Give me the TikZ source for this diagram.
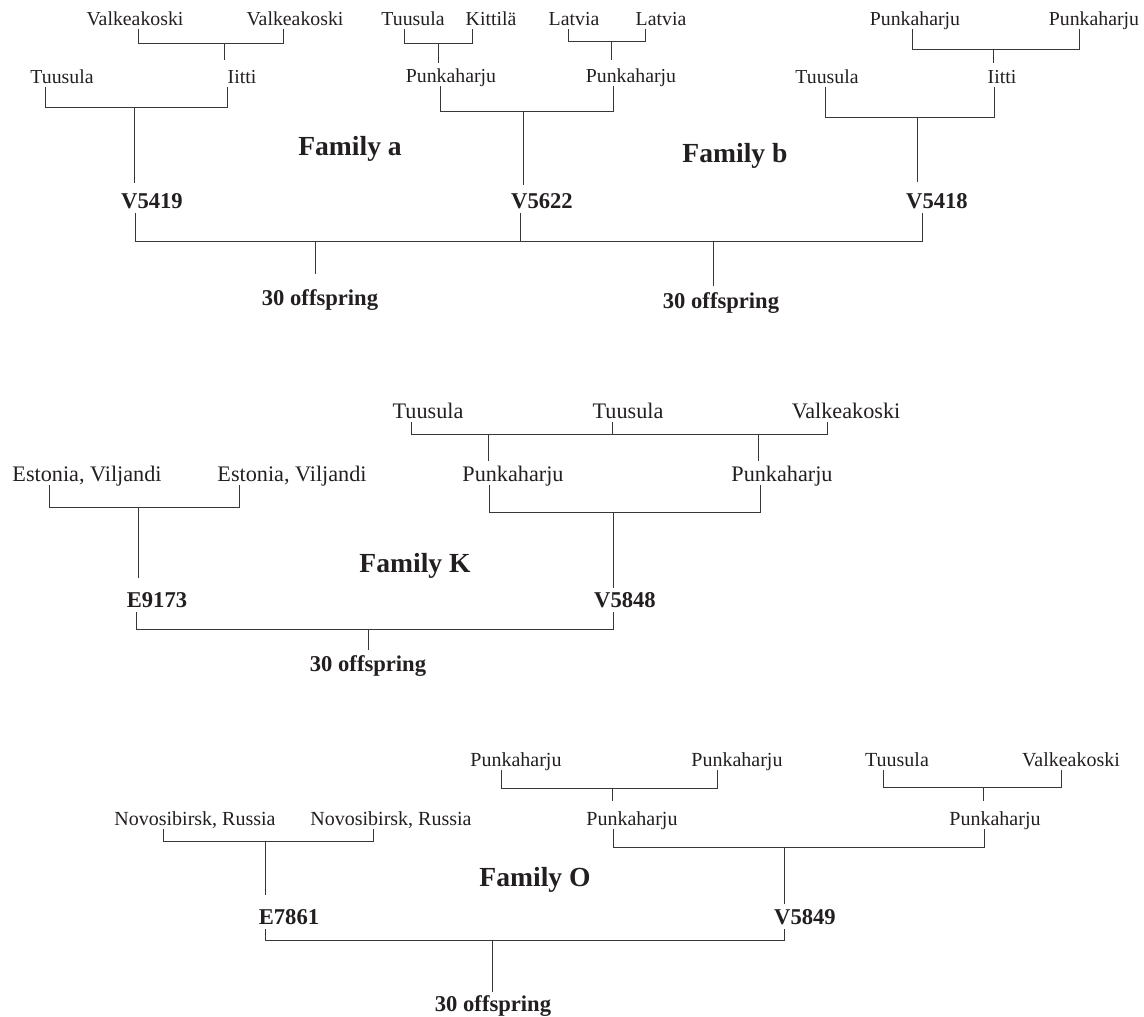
\documentclass[tikz,border=0pt]{standalone}
\usepackage{fontspec}
\setmainfont{Liberation Serif}
\newcommand{\fsTop}{\fontsize{19.8}{23}\selectfont}
\newcommand{\fsK}{\fontsize{22.2}{26}\selectfont}
\newcommand{\fsO}{\fontsize{20}{24}\selectfont}
\newcommand{\fsBold}{\fontsize{22.6}{26}\selectfont\bfseries}
\newcommand{\fsTitle}{\fontsize{27.6}{32}\selectfont\bfseries}
\definecolor{ink}{RGB}{35,31,32}
\definecolor{linec}{RGB}{55,55,55}
\tikzset{
  place/.style={anchor=base, inner sep=0pt, text depth=4pt, text=ink},
  ptop/.style={place, font=\fsTop},
  pk/.style={place, font=\fsK},
  po/.style={place, font=\fsO},
  ident/.style={anchor=base, inner sep=0pt, text depth=5pt, text=ink, font=\fsBold},
  famtitle/.style={anchor=base, inner sep=0pt, text=ink, font=\fsTitle},
  link/.style={draw=linec, line width=0.9pt}
}
\begin{document}
\begin{tikzpicture}[x=1pt,y=-1pt]
\useasboundingbox (0,0) rectangle (1144,1017);

% ================= Families a and b =================
\node[ptop] (va1) at (135,25) {Valkeakoski};
\node[ptop] (va2) at (295,25) {Valkeakoski};
\node[ptop] (ta)  at (413,25) {Tuusula};
\node[ptop] (ka)  at (491,25) {Kittilä};
\node[ptop] (la1) at (574,25) {Latvia};
\node[ptop] (la2) at (661,25) {Latvia};
\node[ptop] (pb1) at (915,25) {Punkaharju};
\node[ptop] (pb2) at (1094,25) {Punkaharju};

\node[ptop] (tua) at (62,83) {Tuusula};
\node[ptop] (iia) at (242,83) {Iitti};
\node[ptop] (pu1) at (451,82) {Punkaharju};
\node[ptop] (pu2) at (631,82) {Punkaharju};
\node[ptop] (tub) at (827,83) {Tuusula};
\node[ptop] (iib) at (1002,83) {Iitti};

\node[famtitle] (fa) at (350,155) {Family a};
\node[famtitle] (fb) at (735,162) {Family b};

\node[ident] (v5419) at (152,208) {V5419};
\node[ident] (v5622) at (542,208) {V5622};
\node[ident] (v5418) at (937,208) {V5418};

\node[ident] (off1) at (320,305) {30 offspring};
\node[ident] (off2) at (721,308) {30 offspring};

% brackets, top row
\coordinate (a1L) at (138,43);  \coordinate (a1R) at (283,43);
\coordinate (a1M) at (224,43);  \coordinate (a1S) at (224,60);
\draw[link] (va1.south -| a1L) -- (a1L) -- (a1R) -- (va2.south -| a1R);
\draw[link] (a1M) -- (a1S);

\coordinate (a2L) at (404,43);  \coordinate (a2R) at (472,43);
\coordinate (a2M) at (438,43);  \coordinate (a2S) at (438,63);
\draw[link] (ta.south -| a2L) -- (a2L) -- (a2R) -- (ka.south -| a2R);
\draw[link] (a2M) -- (a2S);

\coordinate (a3L) at (568,41);  \coordinate (a3R) at (645,41);
\coordinate (a3M) at (611,41);  \coordinate (a3S) at (611,60);
\draw[link] (la1.south -| a3L) -- (a3L) -- (a3R) -- (la2.south -| a3R);
\draw[link] (a3M) -- (a3S);

\coordinate (a4L) at (912,49);  \coordinate (a4R) at (1079,49);
\coordinate (a4M) at (993,49);  \coordinate (a4S) at (993,63);
\draw[link] (pb1.south -| a4L) -- (a4L) -- (a4R) -- (pb2.south -| a4R);
\draw[link] (a4M) -- (a4S);

% brackets, second row
\coordinate (a5L) at (45,107);  \coordinate (a5R) at (227,107);
\coordinate (a5M) at (134,107); \coordinate (a5S) at (134,183);
\draw[link] (tua.south -| a5L) -- (a5L) -- (a5R) -- (iia.south -| a5R);
\draw[link] (a5M) -- (a5S);

\coordinate (a6L) at (440,111); \coordinate (a6R) at (613,111);
\coordinate (a6M) at (523,111); \coordinate (a6S) at (523,185);
\draw[link] (pu1.south -| a6L) -- (a6L) -- (a6R) -- (pu2.south -| a6R);
\draw[link] (a6M) -- (a6S);

\coordinate (a7L) at (825,117); \coordinate (a7R) at (994,117);
\coordinate (a7M) at (917,117); \coordinate (a7S) at (917,182);
\draw[link] (tub.south -| a7L) -- (a7L) -- (a7R) -- (iib.south -| a7R);
\draw[link] (a7M) -- (a7S);

% crossing line
\coordinate (b1L) at (135,241); \coordinate (b1C) at (520,241);
\coordinate (b1R) at (922,241);
\draw[link] (v5419.south -| b1L) -- (b1L) -- (b1R) -- (v5418.south -| b1R);
\draw[link] (v5622.south -| b1C) -- (b1C);
\coordinate (o1T) at (315,241); \coordinate (o1B) at (315,274);
\coordinate (o2T) at (713,241); \coordinate (o2B) at (713,286);
\draw[link] (o1T) -- (o1B);
\draw[link] (o2T) -- (o2B);

% ================= Family K =================
\node[pk] (tk1) at (428,418) {Tuusula};
\node[pk] (tk2) at (628,418) {Tuusula};
\node[pk] (vk)  at (846,418) {Valkeakoski};

\node[pk] (ek1) at (87,481) {Estonia, Viljandi};
\node[pk] (ek2) at (292,481) {Estonia, Viljandi};
\node[pk] (pk1) at (513,481) {Punkaharju};
\node[pk] (pk2) at (782,481) {Punkaharju};

\node[famtitle] (fk) at (415,572) {Family K};

\node[ident] (e9173) at (157,607) {E9173};
\node[ident] (v5848) at (625,607) {V5848};
\node[ident] (offk) at (368,671) {30 offspring};

\coordinate (k1L) at (411,434); \coordinate (k1M) at (612,434);
\coordinate (k1R) at (827,434);
\draw[link] (tk1.south -| k1L) -- (k1L) -- (k1R) -- (vk.south -| k1R);
\draw[link] (tk2.south -| k1M) -- (k1M);
\coordinate (k1a) at (488,434); \coordinate (k1aS) at (488,461);
\coordinate (k1b) at (758,434); \coordinate (k1bS) at (758,461);
\draw[link] (k1a) -- (k1aS);
\draw[link] (k1b) -- (k1bS);

\coordinate (k2L) at (49,507);  \coordinate (k2R) at (239,507);
\coordinate (k2M) at (138,507); \coordinate (k2S) at (138,578);
\draw[link] (ek1.south -| k2L) -- (k2L) -- (k2R) -- (ek2.south -| k2R);
\draw[link] (k2M) -- (k2S);

\coordinate (k3L) at (489,512); \coordinate (k3R) at (760,512);
\coordinate (k3M) at (613,512); \coordinate (k3S) at (613,588);
\draw[link] (pk1.south -| k3L) -- (k3L) -- (k3R) -- (pk2.south -| k3R);
\draw[link] (k3M) -- (k3S);

\coordinate (k4L) at (136,629); \coordinate (k4R) at (613,629);
\coordinate (k4M) at (368,629); \coordinate (k4S) at (368,650);
\draw[link] (e9173.south -| k4L) -- (k4L) -- (k4R) -- (v5848.south -| k4R);
\draw[link] (k4M) -- (k4S);

% ================= Family O =================
\node[po] (po1) at (516,766) {Punkaharju};
\node[po] (po2) at (737,766) {Punkaharju};
\node[po] (to)  at (897,766) {Tuusula};
\node[po] (vo)  at (1071,766) {Valkeakoski};

\node[po] (no1) at (195,825) {Novosibirsk, Russia};
\node[po] (no2) at (391,825) {Novosibirsk, Russia};
\node[po] (pm1) at (632,825) {Punkaharju};
\node[po] (pm2) at (995,825) {Punkaharju};

\node[famtitle] (fo) at (535,886) {Family O};

\node[ident] (e7861) at (289,924) {E7861};
\node[ident] (v5849) at (805,924) {V5849};
\node[ident] (offo) at (493,1011) {30 offspring};

\coordinate (p1L) at (501,788); \coordinate (p1R) at (717,788);
\coordinate (p1M) at (612,788); \coordinate (p1S) at (612,801);
\draw[link] (po1.south -| p1L) -- (p1L) -- (p1R) -- (po2.south -| p1R);
\draw[link] (p1M) -- (p1S);

\coordinate (p2L) at (883,787); \coordinate (p2R) at (1061,787);
\coordinate (p2M) at (983,787); \coordinate (p2S) at (983,801);
\draw[link] (to.south -| p2L) -- (p2L) -- (p2R) -- (vo.south -| p2R);
\draw[link] (p2M) -- (p2S);

\coordinate (p3L) at (163,841); \coordinate (p3R) at (373,841);
\coordinate (p3M) at (265,841); \coordinate (p3S) at (265,895);
\draw[link] (no1.south -| p3L) -- (p3L) -- (p3R) -- (no2.south -| p3R);
\draw[link] (p3M) -- (p3S);

\coordinate (p4L) at (613,847); \coordinate (p4R) at (984,847);
\coordinate (p4M) at (784,847); \coordinate (p4S) at (784,904);
\draw[link] (pm1.south -| p4L) -- (p4L) -- (p4R) -- (pm2.south -| p4R);
\draw[link] (p4M) -- (p4S);

\coordinate (p5L) at (265,940); \coordinate (p5R) at (784,940);
\coordinate (p5M) at (492,940); \coordinate (p5S) at (492,992);
\draw[link] (e7861.south -| p5L) -- (p5L) -- (p5R) -- (v5849.south -| p5R);
\draw[link] (p5M) -- (p5S);
\end{tikzpicture}
\end{document}
